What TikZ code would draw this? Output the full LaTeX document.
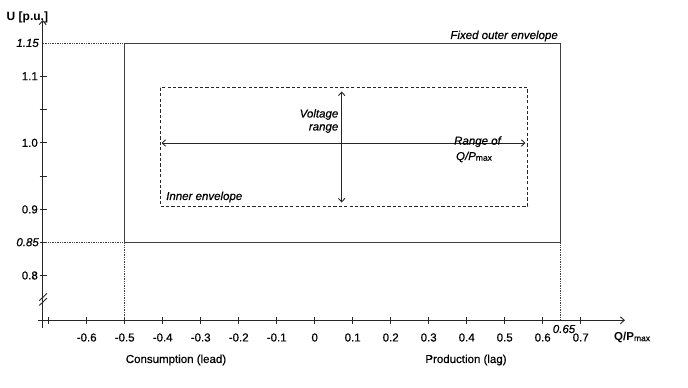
\documentclass[tikz,border=0pt]{standalone}
\usepackage{fontspec}
\setmainfont{Liberation Sans}[FakeBold=0.6]
\newfontfamily\heavyfont{Liberation Sans Bold}
\usetikzlibrary{arrows.meta}
\begin{document}
\begin{tikzpicture}[x=1pt,y=-1pt,
  every node/.style={font=\fontsize{11.5}{13}\selectfont, inner sep=0pt},
  axisline/.style={draw=black!85, line width=0.9pt},
  tickmark/.style={draw=black!85, line width=0.9pt},
  guideline/.style={draw=black!75, line width=0.9pt, dash pattern=on 1.4pt off 1pt},
  outerbox/.style={draw=black!75, line width=1pt},
  innerbox/.style={draw=black!85, line width=0.9pt, dash pattern=on 3.2pt off 2.2pt},
  opentip/.style={-{Straight Barb[length=4pt,width=7pt]}},
  rangearrow/.style={draw=black!85, line width=0.9pt, {Straight Barb[length=3.5pt,width=6.5pt]}-{Straight Barb[length=3.5pt,width=6.5pt]}},
  ticklabel/.style={},
  envlabel/.style={font=\fontsize{11.5}{13}\selectfont\itshape}
]
\useasboundingbox (0,0) rectangle (688,388);
% axes
\coordinate (ybot) at (42.7,328);
\coordinate (ytop) at (42.7,20);
\coordinate (xleft) at (38.3,320.3);
\coordinate (xright) at (625,320.3);
\draw[axisline,opentip] (ybot) -- (ytop);
\draw[axisline,opentip] (xleft) -- (xright);
% axis break
\draw[tickmark] (39.3,300.7) -- (47,293.3);
\draw[tickmark] (39.3,305.5) -- (47,298.1);
% x ticks
\foreach \k in {0,...,14}{
  \draw[tickmark] (48.7+38*\k,317) -- (48.7+38*\k,323.5);
}
\foreach \v/\k in {-0.6/1,-0.5/2,-0.4/3,-0.3/4,-0.2/5,-0.1/6,0/7,0.1/8,0.2/9,0.3/10,0.4/11,0.5/12,0.6/13,0.7/14}{
  \node[ticklabel] (xl\k) at (48.7+38*\k,337.5) {\v};
}
% y ticks
\foreach \yy in {76.2,109.5,142.8,176.1,209.4,242.2,275.5}{
  \draw[tickmark] (39.5,\yy) -- (46.5,\yy);
}
\node[anchor=east] (y11) at (38,76.2) {1.1};
\node[anchor=east] (y10) at (38,142.8) {1.0};
\node[anchor=east] (y09) at (38,209.4) {0.9};
\node[anchor=east] (y08) at (38,275.5) {0.8};
\node[anchor=east,envlabel] (y115) at (39,43) {1.15};
\node[anchor=east,envlabel] (y085) at (39,242.2) {0.85};
% axis titles
\node[anchor=west,font=\fontsize{12}{14}\selectfont\heavyfont] (utitle) at (6.5,17.5) {U [p.u.]};
\node[anchor=west] (qtitle) at (614,337.5) {{\heavyfont Q/P}\raisebox{-0.6pt}{\fontsize{8.5}{10}\selectfont max}};
\node (cons) at (176,360) {Consumption (lead)};
\node (prod) at (466,360) {Production (lag)};
% outer envelope
\coordinate (otl) at (124.7,43);
\coordinate (otr) at (560,43);
\coordinate (obl) at (124.7,242.2);
\coordinate (obr) at (560,242.2);
\coordinate (ay115) at (42.7,43);
\coordinate (ay085) at (42.7,242.2);
\coordinate (ax05) at (124.7,320.3);
\coordinate (ax065) at (560,320.3);
\draw[guideline] (ay115) -- (otl);
\draw[guideline] (ay085) -- (obl);
\draw[guideline] (obl) -- (ax05);
\draw[guideline] (obr) -- (ax065);
\draw[outerbox] (otl) rectangle (obr);
\node[envlabel,anchor=east] (fixed) at (558,36) {Fixed outer envelope};
\node[envlabel] (x065) at (564,329) {0.65};
% inner envelope
\coordinate (itl) at (160,87.7);
\coordinate (ibr) at (527.7,206);
\draw[innerbox] (itl) rectangle (ibr);
\node[envlabel,anchor=west] (inner) at (166,197) {Inner envelope};
% range arrows
\coordinate (hl) at (161.5,143);
\coordinate (hr) at (525.5,143);
\coordinate (vt) at (341.7,91.5);
\coordinate (vb) at (341.7,202.5);
\draw[rangearrow] (hl) -- (hr);
\draw[rangearrow] (vt) -- (vb);
\node[envlabel,anchor=east,align=right] (volt) at (338.5,121) {Voltage\\range};
\node[envlabel] (rangeof) at (477.5,141.7) {Range of};
\node[envlabel] (qp) at (474,157) {Q/P\raisebox{-0.6pt}{\fontsize{8.5}{10}\selectfont\upshape max}};
\end{tikzpicture}
\end{document}
